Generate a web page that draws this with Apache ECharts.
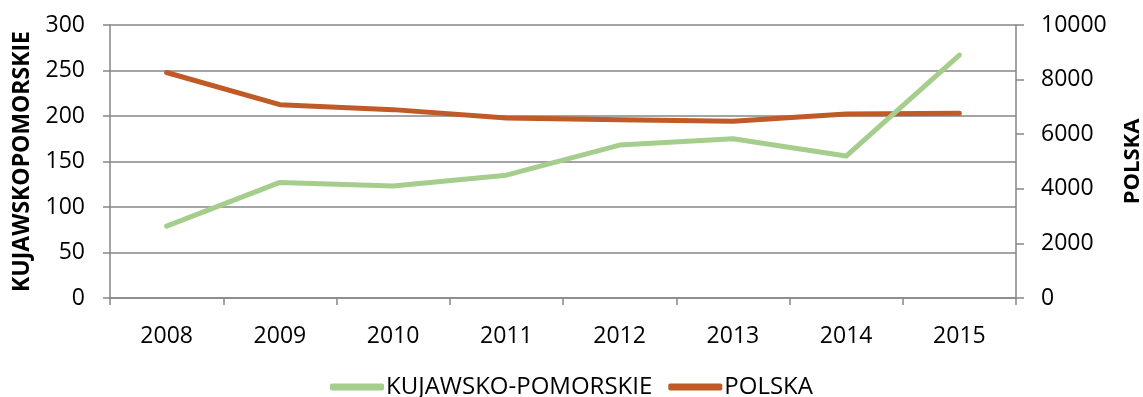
<!DOCTYPE html>
<html>
<head>
<meta charset="utf-8">
<script src="https://cdn.jsdelivr.net/npm/echarts@6/dist/echarts.min.js"></script>
<style>
  html, body { margin: 0; padding: 0; background: #fff; }
  #chart { width: 1143px; height: 397px; }
</style>
</head>
<body>
<div id="chart"></div>
<script>
// Years on the category axis
const years = ['2008', '2009', '2010', '2011', '2012', '2013', '2014', '2015'];
// Kujawsko-pomorskie (left axis)
const kujawskoPomorskie = [79, 127, 123, 135, 168, 175, 156, 267];
// Polska (right axis)
const polska = [8260, 7080, 6900, 6590, 6530, 6470, 6740, 6770];

const FONT = '"Open Sans", sans-serif';
const GRID_COLOR = '#868686';
const GREEN = '#A5CD8C';
const ORANGE = '#C05A27';
const LABEL_SIZE = 23;

const chart = echarts.init(document.getElementById('chart'));
chart.setOption({
  animation: false,
  backgroundColor: '#fff',
  textStyle: { fontFamily: FONT },
  grid: { left: 110, right: 127, top: 25, bottom: 99, outerBoundsMode: 'none', containLabel: false },
  legend: {
    top: 370,
    left: 'center',
    itemWidth: 54,
    itemHeight: 7,
    itemGap: 16,
    icon: 'roundRect',
    textStyle: { fontFamily: FONT, fontSize: 24, color: '#000', padding: [0, 0, 0, -3] },
    data: ['KUJAWSKO-POMORSKIE', 'POLSKA']
  },
  xAxis: {
    type: 'category',
    data: years,
    boundaryGap: true,
    axisLine: { lineStyle: { color: GRID_COLOR, width: 1.5 } },
    axisTick: { show: true, length: 7, inside: false, lineStyle: { color: GRID_COLOR, width: 1.5 } },
    axisLabel: { color: '#000', fontSize: LABEL_SIZE, fontFamily: FONT, margin: 27 }
  },
  yAxis: [
    {
      type: 'value',
      min: 0, max: 300, interval: 50,
      name: 'KUJAWSKOPOMORSKIE',
      nameLocation: 'middle',
      nameRotate: 90,
      nameGap: 76,
      nameTextStyle: { fontFamily: FONT, fontSize: 23, fontWeight: 'bold', color: '#000' },
      axisLine: { show: true, lineStyle: { color: GRID_COLOR, width: 1.5 } },
      axisTick: { show: true, length: 7, lineStyle: { color: GRID_COLOR, width: 1.5 } },
      axisLabel: { color: '#000', fontSize: LABEL_SIZE, fontFamily: FONT, margin: 25 },
      splitLine: { show: true, lineStyle: { color: GRID_COLOR, width: 1.5 } }
    },
    {
      type: 'value',
      min: 0, max: 10000, interval: 2000,
      name: 'POLSKA',
      nameLocation: 'middle',
      nameRotate: 90,
      nameGap: 106,
      nameTextStyle: { fontFamily: FONT, fontSize: 22, fontWeight: 'bold', color: '#000' },
      axisLine: { show: true, lineStyle: { color: GRID_COLOR, width: 1.5 } },
      axisTick: { show: true, length: 8, lineStyle: { color: GRID_COLOR, width: 1.5 } },
      axisLabel: {
        color: '#000', fontSize: LABEL_SIZE, fontFamily: FONT, margin: 25,
        formatter: (v) => String(v)
      },
      splitLine: { show: false }
    }
  ],
  series: [
    {
      name: 'KUJAWSKO-POMORSKIE',
      type: 'line',
      yAxisIndex: 0,
      data: kujawskoPomorskie,
      showSymbol: false,
      symbol: 'none',
      lineStyle: { color: GREEN, width: 5, cap: 'round', join: 'round' },
      itemStyle: { color: GREEN },
      z: 3
    },
    {
      name: 'POLSKA',
      type: 'line',
      yAxisIndex: 1,
      data: polska,
      showSymbol: false,
      symbol: 'none',
      lineStyle: { color: ORANGE, width: 5, cap: 'round', join: 'round' },
      itemStyle: { color: ORANGE },
      z: 2
    }
  ]
});
</script>
</body>
</html>
